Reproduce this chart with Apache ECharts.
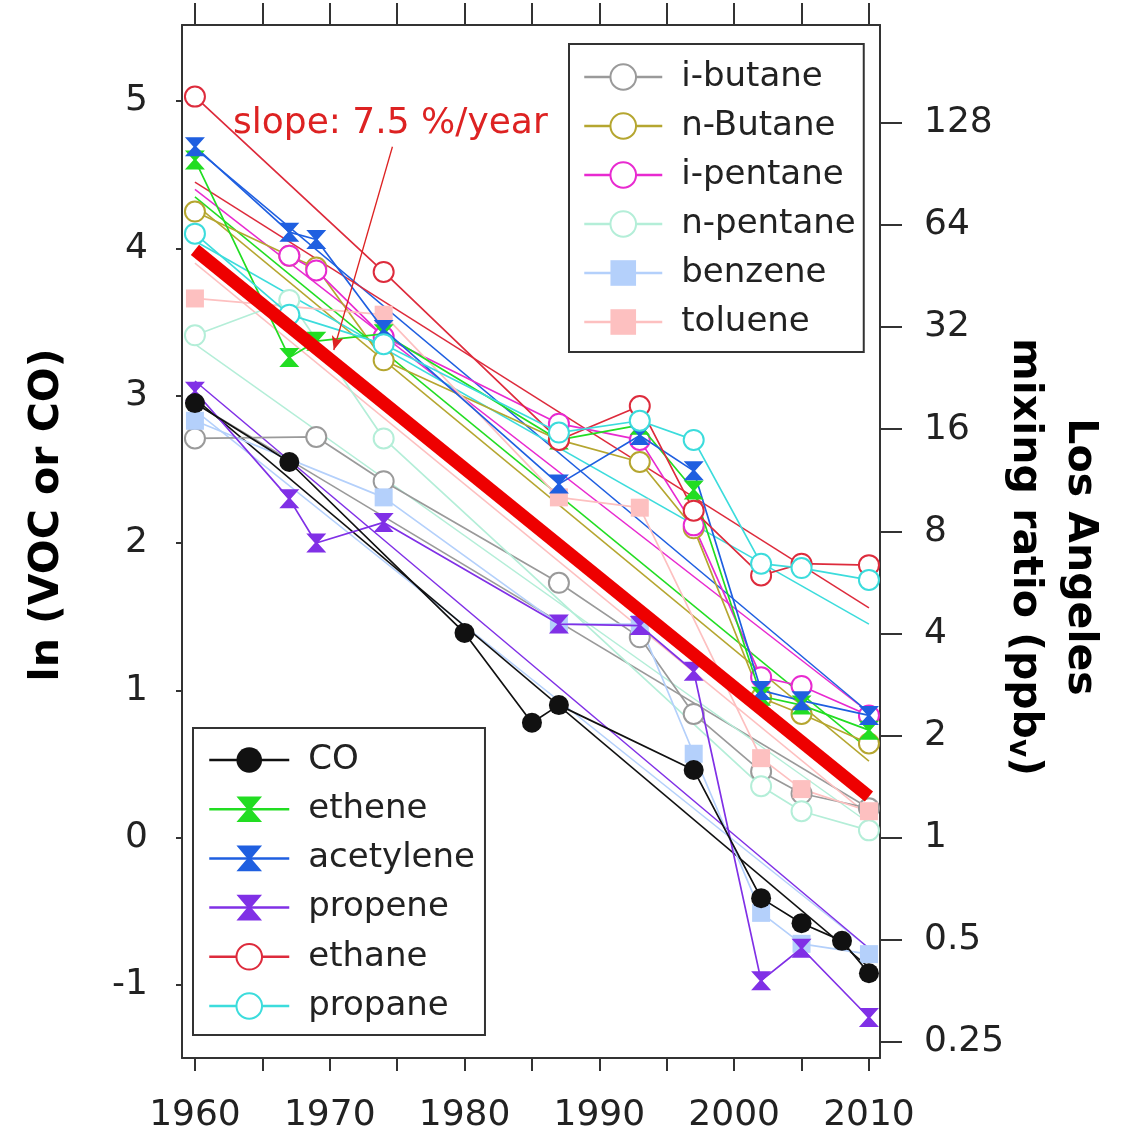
<!DOCTYPE html>
<html><head><meta charset="utf-8">
<script src="https://cdn.jsdelivr.net/npm/echarts@6/dist/echarts.min.js"></script>
<style>html,body{margin:0;padding:0;background:#fff}#c{width:1125px;height:1138px}</style>
</head><body><div id="c"></div><script>
// ---- data (ln of mixing ratio, ppbv) ----
const fitYears = [1960, 2010];

const coYears = [1960, 1967, 1980, 1985, 1987, 1997, 2002, 2005, 2008, 2010];
const coVals  = [2.95, 2.55, 1.39, 0.78, 0.90, 0.46, -0.41, -0.58, -0.70, -0.92];
const coFit   = [2.98, -0.88];

const etheneYears = [1960, 1967, 1969, 1974, 1987, 1993, 1997, 2002, 2005, 2010];
const etheneVals  = [4.60, 3.26, 3.37, 3.42, 2.70, 2.80, 2.36, 0.96, 0.90, 0.73];
const etheneFit   = [4.35, 0.60];

const acetyleneYears = [1960, 1967, 1969, 1974, 1987, 1993, 1997, 2002, 2005, 2010];
const acetyleneVals  = [4.69, 4.11, 4.06, 3.45, 2.40, 2.73, 2.49, 1.00, 0.93, 0.83];
const acetyleneFit   = [4.68, 0.85];

const propeneYears = [1960, 1967, 1969, 1974, 1987, 1993, 1997, 2002, 2005, 2010];
const propeneVals  = [3.03, 2.30, 2.00, 2.14, 1.45, 1.44, 1.13, -0.97, -0.75, -1.22];
const propeneFit   = [3.10, -0.75];

const ethaneYears = [1960, 1974, 1987, 1993, 1997, 2002, 2005, 2010];
const ethaneVals  = [5.03, 3.84, 2.70, 2.93, 2.22, 1.78, 1.86, 1.85];
const ethaneFit   = [4.45, 1.56];

const propaneYears = [1960, 1967, 1974, 1987, 1993, 1997, 2002, 2005, 2010];
const propaneVals  = [4.10, 3.55, 3.35, 2.75, 2.83, 2.70, 1.86, 1.83, 1.75];
const propaneFit   = [4.05, 1.45];

const iButaneYears = [1960, 1969, 1974, 1987, 1993, 1997, 2002, 2005, 2010];
const iButaneVals  = [2.71, 2.72, 2.42, 1.73, 1.36, 0.84, 0.45, 0.30, 0.20];
const iButaneFit   = [2.95, 0.20];

const nButaneYears = [1960, 1967, 1969, 1974, 1987, 1993, 1997, 2002, 2005, 2010];
const nButaneVals  = [4.25, 3.95, 3.87, 3.24, 2.70, 2.55, 2.10, 0.95, 0.84, 0.64];
const nButaneFit   = [4.30, 0.52];

const iPentaneYears = [1967, 1969, 1974, 1987, 1993, 1997, 2002, 2005, 2010];
const iPentaneVals  = [3.95, 3.85, 3.40, 2.81, 2.70, 2.12, 1.09, 1.03, 0.83];
const iPentaneFit   = [4.40, 0.85];

const nPentaneYears = [1960, 1967, 1974, 2002, 2005, 2010];
const nPentaneVals  = [3.41, 3.65, 2.71, 0.35, 0.18, 0.05];
const nPentaneFit   = [3.35, 0.10];

const benzeneYears = [1960, 1974, 1987, 1993, 1997, 2002, 2005, 2010];
const benzeneVals  = [2.83, 2.31, 1.45, 1.45, 0.57, -0.51, -0.72, -0.79];
const benzeneFit   = [2.90, -0.75];

const tolueneYears = [1960, 1974, 1987, 1993, 2002, 2005, 2010];
const tolueneVals  = [3.66, 3.55, 2.31, 2.24, 0.54, 0.33, 0.18];
const tolueneFit   = [3.90, 0.15];

const meanFitVals = [3.99, 0.28];
const slopeLabel = 'slope: 7.5 %/year';
const arrowFrom = [1974.65, 4.69];
const arrowTo   = [1970.3, 3.31];

const xTicks = [1960, 1965, 1970, 1975, 1980, 1985, 1990, 1995, 2000, 2005, 2010];
const xLabels = [1960, 1970, 1980, 1990, 2000, 2010];
const yLeftTicks = [-1, 0, 1, 2, 3, 4, 5];
const yRightLabels = [0.25, 0.5, 1, 2, 4, 8, 16, 32, 64, 128];

// ---- styling ----
const FONT = 'DejaVu Sans';
const HOUR = 'path://M0,0L20,0L11.5,9L20,18L0,18L8.5,9Z';
const pair = (ys, vs) => ys.map((y, i) => [y, vs[i]]);

const specs = [
  {name:'i-butane',  y:iButaneYears,  v:iButaneVals,  f:iButaneFit,  c:'#9a9a9a', s:'emptyCircle', z:3},
  {name:'n-Butane',  y:nButaneYears,  v:nButaneVals,  f:nButaneFit,  c:'#b5a630', s:'emptyCircle', z:3},
  {name:'i-pentane', y:iPentaneYears, v:iPentaneVals, f:iPentaneFit, c:'#e82ad0', s:'emptyCircle', z:3},
  {name:'n-pentane', y:nPentaneYears, v:nPentaneVals, f:nPentaneFit, c:'#b4eed8', s:'emptyCircle', z:3},
  {name:'benzene',   y:benzeneYears,  v:benzeneVals,  f:benzeneFit,  c:'#b4d0fb', s:'rect', z:3},
  {name:'toluene',   y:tolueneYears,  v:tolueneVals,  f:tolueneFit,  c:'#fdc0c0', s:'rect', z:3},
  {name:'CO',        y:coYears,       v:coVals,       f:coFit,       c:'#111111', s:'circle', z:6},
  {name:'ethene',    y:etheneYears,   v:etheneVals,   f:etheneFit,   c:'#22dd22', s:HOUR, z:4},
  {name:'acetylene', y:acetyleneYears,v:acetyleneVals,f:acetyleneFit,c:'#1f5fe0', s:HOUR, z:4},
  {name:'propene',   y:propeneYears,  v:propeneVals,  f:propeneFit,  c:'#8030e6', s:HOUR, z:4},
  {name:'ethane',    y:ethaneYears,   v:ethaneVals,   f:ethaneFit,   c:'#dd2b3c', s:'emptyCircle', z:4},
  {name:'propane',   y:propaneYears,  v:propaneVals,  f:propaneFit,  c:'#3cdcdc', s:'emptyCircle', z:4}
];

const series = [];
specs.forEach(sp => {
  series.push({
    name: sp.name + ' fit', type:'line', data: pair(fitYears, sp.f), symbol:'none',
    lineStyle:{color:sp.c, width:1.5}, z:2, silent:true
  });
});
specs.forEach(sp => {
  const size = sp.s === HOUR ? [20,19] : (sp.s === 'rect' ? 18 : 20);
  series.push({
    name: sp.name, type:'line', data: pair(sp.y, sp.v), symbol: sp.s, symbolSize: size,
    showAllSymbol:true,
    lineStyle:{color:sp.c, width:1.7}, itemStyle:{color:sp.c, borderColor:sp.c, borderWidth: sp.s==='emptyCircle'?1.5:0},
    z: sp.z
  });
});
series.push({
  name:'mean', type:'line', data: pair(fitYears, meanFitVals), symbol:'none',
  lineStyle:{color:'#ee0000', width:13, cap:'butt'}, z:5, silent:true,
  markLine:{
    silent:true, symbol:['none','arrow'], symbolSize:[9,14],
    lineStyle:{color:'#dd2222', width:1.3, type:'solid'}, label:{show:false},
    data:[[{coord:arrowFrom},{coord:arrowTo}]]
  }
});

const legendCommon = {
  orient:'vertical', itemHeight:32, itemGap:15,
  backgroundColor:'#fff', borderColor:'#333', borderWidth:2,
  textStyle:{fontFamily:FONT, fontSize:34, color:'#222', padding:[0,0,0,14]},
  lineStyle:{width:2.5}, inactiveColor:'#ccc', selectedMode:false
};

const axisLineStyle = {show:true, onZero:false, lineStyle:{color:'#333', width:2}};

const option = {
  animation:false,
  backgroundColor:'#fff',
  grid:{left:182, top:25, right:245, bottom:80, containLabel:false},
  xAxis:[
    {type:'value', position:'bottom', min:1959.04, max:2010.82,
     axisLine:axisLineStyle,
     axisTick:{show:true, customValues:xTicks, length:13, lineStyle:{color:'#333', width:2}},
     axisLabel:{customValues:xLabels, margin:40, fontFamily:FONT, fontSize:36, color:'#222', formatter:v=>String(v)},
     splitLine:{show:false}},
    {type:'value', position:'top', min:1959.04, max:2010.82,
     axisLine:axisLineStyle,
     axisTick:{show:true, customValues:xTicks, length:22, lineStyle:{color:'#333', width:2}},
     axisLabel:{show:false}, splitLine:{show:false}}
  ],
  yAxis:[
    {type:'value', position:'left', min:-1.495, max:5.516,
     axisLine:axisLineStyle,
     axisTick:{show:true, customValues:yLeftTicks, length:6, lineStyle:{color:'#333', width:2}},
     axisLabel:{customValues:yLeftTicks, margin:34, fontFamily:FONT, fontSize:36, color:'#222', formatter:v=>String(v)},
     splitLine:{show:false}},
    {type:'value', position:'right', min:-1.495, max:5.516,
     axisLine:axisLineStyle,
     axisTick:{show:true, customValues:yRightLabels.map(v=>Math.log(v)), length:22, lineStyle:{color:'#333', width:2}},
     axisLabel:{customValues:yRightLabels.map(v=>Math.log(v)), margin:44, fontFamily:FONT, fontSize:36, color:'#222',
       formatter:v=>{const e=Math.exp(v); return String(e>=1?Math.round(e):Math.round(e*100)/100);}},
     splitLine:{show:false}}
  ],
  legend:[
    Object.assign({}, legendCommon, {left:569, top:44, itemWidth:78, padding:[16,8,13,14],
      data:['i-butane','n-Butane','i-pentane','n-pentane','benzene','toluene']}),
    Object.assign({}, legendCommon, {left:193, top:728, itemWidth:80, itemGap:15.2, padding:[15,10,12,15],
      data:['CO','ethene','acetylene','propene','ethane','propane']})
  ],
  graphic:[
    {type:'text', left:233, top:106, style:{text:slopeLabel, font:'36px "DejaVu Sans"', fill:'#dd2222'}},
    {type:'text', x:47, y:515, rotation:Math.PI/2,
     style:{text:'ln (VOC or CO)', font:'bold 41px "DejaVu Sans"', fill:'#000', align:'center', verticalAlign:'middle'}},
    {type:'text', x:1080, y:557, rotation:-Math.PI/2,
     style:{text:'Los Angeles', font:'bold 41px "DejaVu Sans"', fill:'#000', align:'center', verticalAlign:'middle'}},
    {type:'text', x:1025, y:557, rotation:-Math.PI/2,
     style:{text:'mixing ratio (ppb{s|v})', font:'bold 41px "DejaVu Sans"', fill:'#000', align:'center', verticalAlign:'middle',
       rich:{s:{font:'bold 28px "DejaVu Sans"', fill:'#000', verticalAlign:'bottom', padding:[16,0,0,0]}}}}
  ],
  series: series
};
const chart = echarts.init(document.getElementById('c'), null, {renderer:'canvas'});
chart.setOption(option);
</script></body></html>
